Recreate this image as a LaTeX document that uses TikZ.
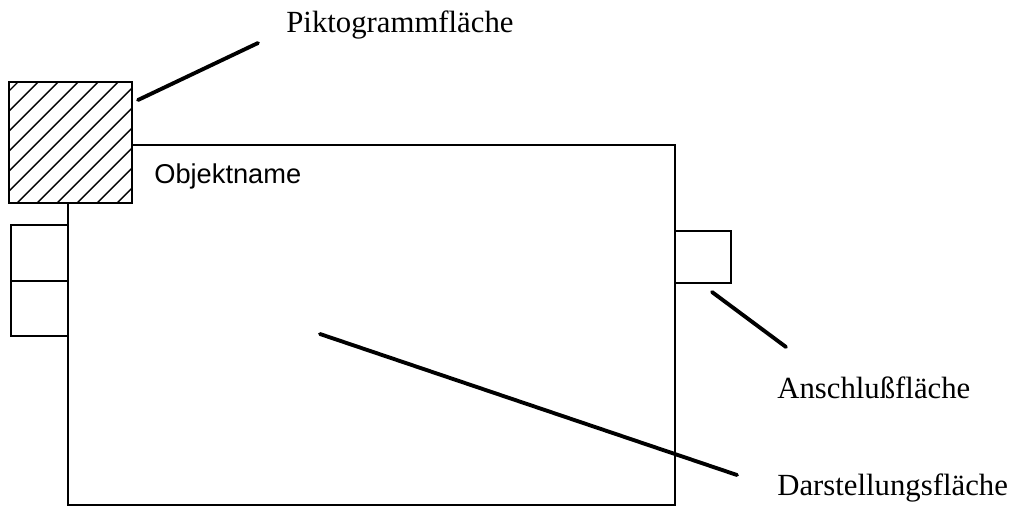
\documentclass[tikz,border=0pt]{standalone}
\usepackage{fontspec}
\setmainfont{Liberation Serif}
\newfontfamily\helvfont{Liberation Sans}
\usepackage{tikz}
\usetikzlibrary{positioning}
\tikzset{
  frame/.style={draw, line width=1.3pt},
  leader/.style={draw, line width=2.2pt, line cap=round},
  callout/.style={anchor=base west, inner sep=0pt, font=\fontsize{17.5}{20}\selectfont}
}

\begin{document}
\begin{tikzpicture}[x=0.2mm, y=-0.2mm]
    \useasboundingbox (0,0) rectangle (1018,507);
        % main window and pictogram square
        \draw[frame] (68,145) rectangle (675,505);
        \fill[white] (9,82) rectangle (132,203);
        \begin{scope}
            \clip (9,82) rectangle (132,203);
            \foreach \i in {-103,-83,...,137}
                \draw[line width=0.8pt] (\i,203) -- ++(130,-130);
        \end{scope}
        \draw[frame] (9,82) rectangle (132,203);
        % connector boxes
        \draw[frame] (11,225) rectangle (68,281);
        \draw[frame] (11,281) rectangle (68,336);
        \draw[frame] (675,231) rectangle (731,283);

        \node[anchor=base west, inner sep=0pt, font=\helvfont\fontsize{15.5}{18}\selectfont] (objname) at (154,183) {Objektname};

        \node[callout] (pikto) at (286,32) {Piktogrammfläche};
        \node[callout] (anschluss) at (777,398) {Anschlußfläche};
        \node[callout] (darst) at (777,495) {Darstellungsfläche};

        \coordinate (piktoA) at (138,100);
        \coordinate (piktoB) at (258,43);
        \coordinate (anschlussA) at (712,292);
        \coordinate (anschlussB) at (786,347);
        \coordinate (darstA) at (320,334);
        \coordinate (darstB) at (737,475);
        \draw[leader] (piktoA) -- (piktoB);
        \draw[leader] (anschlussA) -- (anschlussB);
        \draw[leader] (darstA) -- (darstB);
    \end{tikzpicture}
\end{document}
